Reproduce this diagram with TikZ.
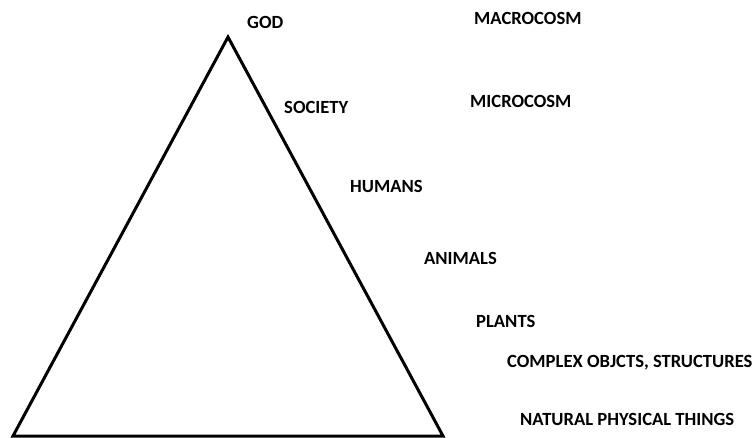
\documentclass[tikz,border=0pt]{standalone}
\usepackage{fontspec}
\setmainfont{Carlito}
\begin{document}
\begin{tikzpicture}[x=1pt,y=-1pt,
  lbl/.style={anchor=west,inner sep=0pt,font=\bfseries\fontsize{18.6}{18.6}\selectfont},
  tri/.style={line width=3pt,line join=miter}]
\useasboundingbox (0,0) rectangle (754,438);
\coordinate (top) at (228,37);
\coordinate (bl) at (13,436);
\coordinate (br) at (443,436);
\draw[tri] (top) -- (br) -- (bl) -- cycle;
\node[lbl] (god) at (247,22) {GOD};
\node[lbl] (macro) at (474,18) {MACROCOSM};
\node[lbl] (soc) at (284,107) {SOCIETY};
\node[lbl] (micro) at (470,101) {MICROCOSM};
\node[lbl] (hum) at (350,186) {HUMANS};
\node[lbl] (ani) at (424,258) {ANIMALS};
\node[lbl] (pla) at (476,321) {PLANTS};
\node[lbl] (comp) at (507,363) {COMPLEX OBJCTS, STRUCTURES};
\node[lbl] (nat) at (520,419) {NATURAL PHYSICAL THINGS};
\end{tikzpicture}
\end{document}
